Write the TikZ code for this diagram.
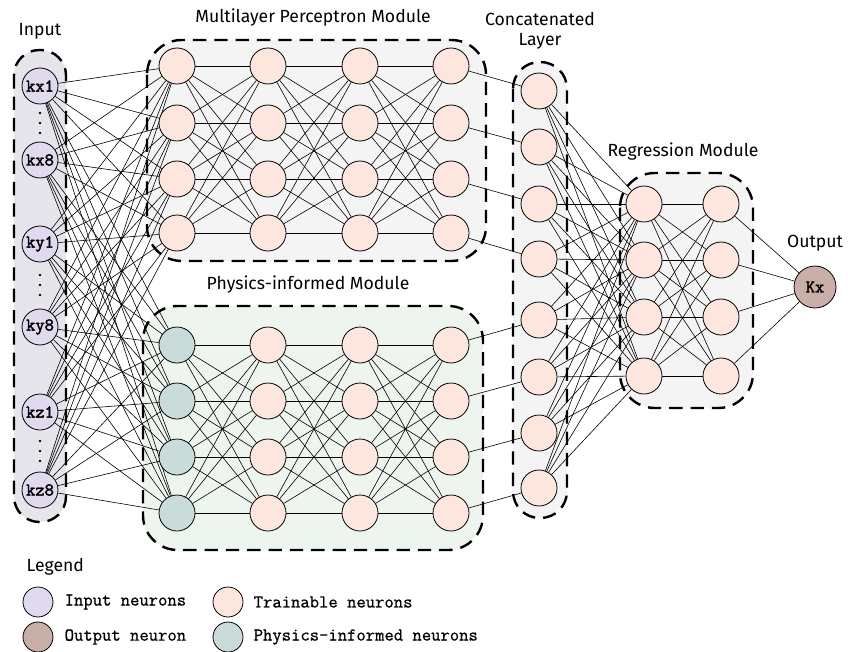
\documentclass[tikz,border=0pt]{standalone}
\usepackage{fontspec}
\setmainfont{Fira Sans}
\newfontfamily\neuronfont{Latin Modern Mono}[FakeBold=2.2]
\newfontfamily\keyfont{Latin Modern Mono}[FakeBold=0.8]

\definecolor{inputc}{HTML}{E1D9EE}
\definecolor{trainc}{HTML}{FDE6DE}
\definecolor{outc}{HTML}{C8AFA8}
\definecolor{physc}{HTML}{C9DCDA}
\definecolor{inbox}{HTML}{E6E5EC}
\definecolor{graybox}{HTML}{F4F4F4}
\definecolor{greenbox}{HTML}{EEF5EE}

\pgfdeclarelayer{boxes}
\pgfdeclarelayer{links}
\pgfsetlayers{boxes,links,main}

\begin{document}
\begin{tikzpicture}[x=0.75pt,y=-0.75pt,
  neuron/.style={circle,draw=black,line width=0.6pt,minimum size=27pt,inner sep=0pt},
  inneuron/.style={neuron,fill=inputc,font=\neuronfont\fontsize{13.5}{14}\selectfont},
  trainneuron/.style={neuron,fill=trainc},
  physneuron/.style={neuron,fill=physc},
  outneuron/.style={neuron,fill=outc,minimum size=31.5pt,font=\neuronfont\fontsize{13.5}{14}\selectfont},
  keyneuron/.style={circle,draw=black,line width=0.6pt,minimum size=22.5pt,inner sep=0pt},
  link/.style={line width=0.45pt},
  module/.style={draw=black,line width=1.8pt,dash pattern=on 10pt off 6pt},
  title/.style={font=\fontsize{13.2}{15}\selectfont},
  keytext/.style={anchor=west,font=\keyfont\fontsize{13.6}{14}\selectfont},
  dot/.style={circle,fill=black,inner sep=0pt,minimum size=2.2pt}
]
\useasboundingbox (0,0) rectangle (848,652);

% module frames
\begin{pgfonlayer}{boxes}
  \draw[module,fill=inbox,rounded corners=19pt] (14,50) rectangle (66,522);
  \draw[module,fill=graybox,rounded corners=26pt] (147,40) rectangle (486,261);
  \draw[module,fill=greenbox,rounded corners=26pt] (143,306) rectangle (483,550);
  \draw[module,fill=graybox,rounded corners=20pt] (513,62) rectangle (567,518);
  \draw[module,fill=graybox,rounded corners=26pt] (620,173) rectangle (753,408);
\end{pgfonlayer}

% input neurons
\foreach \n/\y/\t in {1/86/kx1,2/160/kx8,3/244/ky1,4/327/ky8,5/412/kz1,6/490/kz8}
  \node[inneuron] (in\n) at (40,\y) {\t};
\foreach \y in {113,123,133,275,285,295,441,451,461}
  \node[dot] (d\y) at (40,\y) {};

% multilayer perceptron module
\foreach \c/\x in {1/177,2/268,3/360,4/451}
  \foreach \r/\y in {1/66,2/123,3/179,4/233}
    \node[trainneuron] (m\c\r) at (\x,\y) {};

% physics-informed module
\foreach \r/\y in {1/345,2/401,3/457,4/513}
  \node[physneuron] (p1\r) at (177,\y) {};
\foreach \c/\x in {2/268,3/360,4/451}
  \foreach \r/\y in {1/345,2/401,3/457,4/513}
    \node[trainneuron] (p\c\r) at (\x,\y) {};

% concatenated layer
\foreach \r/\y in {1/91,2/147,3/204,4/259,5/320,6/377,7/433,8/488}
  \node[trainneuron] (c\r) at (539,\y) {};

% regression module
\foreach \c/\x in {1/644,2/721}
  \foreach \r/\y in {1/204,2/260,3/317,4/376}
    \node[trainneuron] (r\c\r) at (\x,\y) {};

% output
\node[outneuron] (out) at (815,287) {Kx};

% connections
\begin{pgfonlayer}{links}
  \foreach \i in {1,...,6}
    \foreach \j in {1,...,4} {
      \draw[link] (in\i) -- (m1\j);
      \draw[link] (in\i) -- (p1\j);
    }
  \foreach \c in {1,2,3} {
    \pgfmathtruncatemacro\d{\c+1}
    \foreach \i in {1,...,4}
      \foreach \j in {1,...,4} {
        \draw[link] (m\c\i) -- (m\d\j);
        \draw[link] (p\c\i) -- (p\d\j);
      }
  }
  \foreach \i in {1,...,4} {
    \pgfmathtruncatemacro\k{\i+4}
    \draw[link] (m4\i) -- (c\i);
    \draw[link] (p4\i) -- (c\k);
  }
  \foreach \i in {1,...,8}
    \foreach \j in {1,...,4}
      \draw[link] (c\i) -- (r1\j);
  \foreach \i in {1,...,4} {
    \foreach \j in {1,...,4}
      \draw[link] (r1\i) -- (r2\j);
    \draw[link] (r2\i) -- (out);
  }
\end{pgfonlayer}

% titles
\node[title] (tin) at (40,31) {Input};
\node[title] (tmlp) at (313,18) {Multilayer Perceptron Module};
\node[title] (tphys) at (308,285) {Physics-informed Module};
\node[title,align=center] (tcat) at (540,31) {Concatenated\\Layer};
\node[title] (treg) at (683,152) {Regression Module};
\node[title] (tout) at (815,243) {Output};

% legend
\node[title,anchor=west] (tleg) at (22,567) {Legend};
\node[keyneuron,fill=inputc] (kin) at (38,602) {};
\node[keytext] (lin) at (60,602) {Input neurons};
\node[keyneuron,fill=trainc] (ktr) at (228,602) {};
\node[keytext] (ltr) at (249,602) {Trainable neurons};
\node[keyneuron,fill=outc] (kout) at (38,637) {};
\node[keytext] (lout) at (60,637) {Output neuron};
\node[keyneuron,fill=physc] (kph) at (228,637) {};
\node[keytext] (lph) at (249,637) {Physics-informed neurons};
\end{tikzpicture}
\end{document}
